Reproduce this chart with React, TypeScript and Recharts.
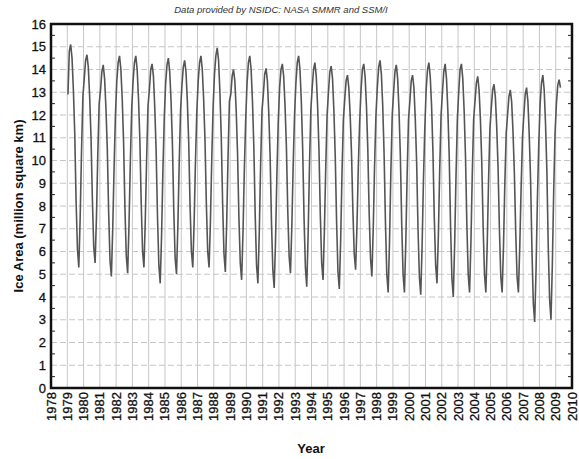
import { LineChart, Line, XAxis, YAxis, CartesianGrid, ReferenceArea } from 'recharts';

// monthly ice area (million sq km), Jan..Dec, one row per year from 1979
const startYear = 1979;
const monthlyArea: number[][] = [
  [12.9, 14.8, 15.1, 14.5, 13.1, 11.2, 8.2, 6.1, 5.3, 7.5, 10.4, 12.8], // 1979
  [13.6, 14.4, 14.65, 14.1, 12.8, 11.0, 8.3, 6.2, 5.5, 7.5, 10.3, 12.5], // 1980
  [13.1, 13.9, 14.2, 13.6, 12.3, 10.5, 7.7, 5.6, 4.9, 7.0, 9.7, 12.0], // 1981
  [13.5, 14.3, 14.6, 14.0, 12.7, 10.8, 7.9, 5.8, 5.05, 7.2, 10.0, 12.3], // 1982
  [13.5, 14.3, 14.6, 14.0, 12.7, 10.9, 8.1, 6.0, 5.3, 7.4, 10.1, 12.4], // 1983
  [13.1, 14.0, 14.25, 13.7, 12.3, 10.4, 7.5, 5.4, 4.6, 6.7, 9.6, 11.9], // 1984
  [13.4, 14.2, 14.5, 13.9, 12.6, 10.7, 7.8, 5.7, 5.0, 7.1, 9.9, 12.2], // 1985
  [13.3, 14.1, 14.4, 13.9, 12.6, 10.8, 8.0, 6.0, 5.3, 7.3, 10.0, 12.2], // 1986
  [13.5, 14.3, 14.6, 14.0, 12.7, 10.9, 8.1, 6.0, 5.3, 7.3, 10.1, 12.4], // 1987
  [13.8, 14.6, 14.95, 14.4, 13.0, 11.0, 8.1, 5.9, 5.1, 7.3, 10.2, 12.6], // 1988
  [12.9, 13.7, 14.0, 13.5, 12.2, 10.3, 7.5, 5.5, 4.75, 6.8, 9.6, 11.8], // 1989
  [13.4, 14.3, 14.6, 14.0, 12.6, 10.6, 7.6, 5.4, 4.6, 6.8, 9.8, 12.2], // 1990
  [12.9, 13.8, 14.05, 13.5, 12.1, 10.2, 7.3, 5.2, 4.4, 6.5, 9.4, 11.7], // 1991
  [13.2, 14.0, 14.25, 13.7, 12.4, 10.6, 7.8, 5.8, 5.05, 7.1, 9.8, 12.0], // 1992
  [13.4, 14.3, 14.6, 14.0, 12.6, 10.5, 7.5, 5.3, 4.45, 6.7, 9.7, 12.2], // 1993
  [13.2, 14.0, 14.3, 13.7, 12.4, 10.5, 7.6, 5.5, 4.75, 6.9, 9.7, 12.0], // 1994
  [13.0, 13.9, 14.15, 13.6, 12.2, 10.2, 7.3, 5.1, 4.35, 6.5, 9.5, 11.8], // 1995
  [12.7, 13.5, 13.75, 13.2, 12.0, 10.3, 7.8, 5.9, 5.2, 7.1, 9.7, 11.7], // 1996
  [13.1, 14.0, 14.25, 13.7, 12.4, 10.5, 7.7, 5.7, 4.9, 7.0, 9.8, 12.0], // 1997
  [13.2, 14.1, 14.4, 13.8, 12.4, 10.3, 7.3, 5.0, 4.2, 6.4, 9.5, 12.0], // 1998
  [13.0, 13.9, 14.2, 13.6, 12.2, 10.2, 7.2, 5.0, 4.2, 6.4, 9.4, 11.8], // 1999
  [12.6, 13.5, 13.75, 13.2, 11.8, 9.9, 7.0, 4.9, 4.1, 6.2, 9.1, 11.4], // 2000
  [13.1, 14.0, 14.3, 13.7, 12.4, 10.4, 7.5, 5.4, 4.6, 6.7, 9.6, 12.0], // 2001
  [13.0, 13.9, 14.25, 13.6, 12.2, 10.2, 7.1, 4.8, 4.0, 6.3, 9.3, 11.8], // 2002
  [13.0, 14.0, 14.25, 13.6, 12.2, 10.2, 7.2, 5.0, 4.2, 6.4, 9.4, 11.8], // 2003
  [12.6, 13.4, 13.7, 13.1, 11.8, 9.9, 7.1, 5.0, 4.2, 6.3, 9.1, 11.4], // 2004
  [12.3, 13.1, 13.35, 12.8, 11.5, 9.7, 7.0, 4.9, 4.2, 6.2, 9.0, 11.2], // 2005
  [12.0, 12.8, 13.1, 12.6, 11.3, 9.5, 6.9, 4.9, 4.2, 6.2, 8.8, 11.0], // 2006
  [12.0, 12.9, 13.2, 12.6, 11.1, 9.1, 6.0, 3.7, 2.9, 5.2, 8.3, 10.7], // 2007
  [12.5, 13.4, 13.75, 13.1, 11.6, 9.5, 6.2, 3.9, 3.0, 5.4, 8.6, 11.2], // 2008
  [12.5, 13.3, 13.55, 13.2], // 2009
];

const yearTicks = [
  1978, 1979, 1980, 1981, 1982, 1983, 1984, 1985, 1986, 1987, 1988, 1989, 1990, 1991, 1992, 1993, 1994,
  1995, 1996, 1997, 1998, 1999, 2000, 2001, 2002, 2003, 2004, 2005, 2006, 2007, 2008, 2009, 2010,
];
const areaTicks = [0, 1, 2, 3, 4, 5, 6, 7, 8, 9, 10, 11, 12, 13, 14, 15, 16];
const minorTicks = [0.5, 1.5, 2.5, 3.5, 4.5, 5.5, 6.5, 7.5, 8.5, 9.5, 10.5, 11.5, 12.5, 13.5, 14.5, 15.5];

const data = monthlyArea.flatMap((row, i) =>
  row.map((area, m) => ({ t: startYear + i + (m + 0.5) / 12, area }))
);

const font = '"Liberation Sans", Arial, Helvetica, sans-serif';

const YearTick = ({ x, y, payload }: any) => (
  <text
    x={x}
    y={y}
    transform={`rotate(-90, ${x}, ${y})`}
    textAnchor="end"
    dominantBaseline="central"
    fontSize={13}
    fontFamily={font}
    fill="#111"
    stroke="#111"
    strokeWidth={0.3}
  >
    {payload.value}
  </text>
);

const NoLabel = () => <g />;

export default function App() {
  return (
    <div style={{ position: 'absolute', left: 0, top: 0, background: '#fff' }}>
      <LineChart width={579} height={459} data={data} margin={{ top: 24, right: 7, bottom: 0, left: 0 }}>
        <CartesianGrid vertical={false} stroke="#c6c6c6" strokeDasharray="6 3" horizontalValues={areaTicks} />
        <CartesianGrid horizontal={false} stroke="#c6c6c6" verticalValues={yearTicks} />
        <XAxis
          dataKey="t"
          type="number"
          domain={[1978, 2010]}
          ticks={yearTicks}
          interval={0}
          height={71}
          axisLine={false}
          tickLine={false}
          tickSize={2}
          tickMargin={2}
          tick={<YearTick />}
        />
        <YAxis
          type="number"
          domain={[0, 16]}
          ticks={areaTicks}
          interval={0}
          width={51}
          axisLine={false}
          tickLine={false}
          tickSize={0}
          tickMargin={5}
          tick={{ fontSize: 13, fill: '#111', stroke: '#111', strokeWidth: 0.3, fontFamily: font }}
        />
        <YAxis
          yAxisId="minorL"
          type="number"
          domain={[0, 16]}
          allowDataOverflow
          ticks={minorTicks}
          interval={0}
          mirror
          axisLine={false}
          tick={<NoLabel />}
          tickSize={4}
          tickLine={{ stroke: '#222', strokeWidth: 1 }}
        />
        <YAxis
          yAxisId="minorR"
          orientation="right"
          type="number"
          domain={[0, 16]}
          allowDataOverflow
          ticks={minorTicks}
          interval={0}
          mirror
          axisLine={false}
          tick={<NoLabel />}
          tickSize={4}
          tickLine={{ stroke: '#222', strokeWidth: 1 }}
        />
        <Line dataKey="area" stroke="#555" strokeWidth={1.6} dot={false} isAnimationActive={false} />
        <ReferenceArea x1={1978} x2={2010} y1={0} y2={16} fill="none" stroke="#111" strokeWidth={2.5} />
        <text x={281} y={13} textAnchor="middle" fontSize={9.5} fontStyle="italic" fontFamily={font} fill="#333">
          Data provided by NSIDC: NASA SMMR and SSM/I
        </text>
        <text
          x={18}
          y={206}
          transform="rotate(-90, 18, 206)"
          textAnchor="middle"
          dominantBaseline="central"
          fontSize={13}
          fontWeight="bold"
          fontFamily={font}
          fill="#111"
        >
          Ice Area (million square km)
        </text>
        <text x={311} y={453} textAnchor="middle" fontSize={13} fontWeight="bold" fontFamily={font} fill="#111">
          Year
        </text>
      </LineChart>
    </div>
  );
}
